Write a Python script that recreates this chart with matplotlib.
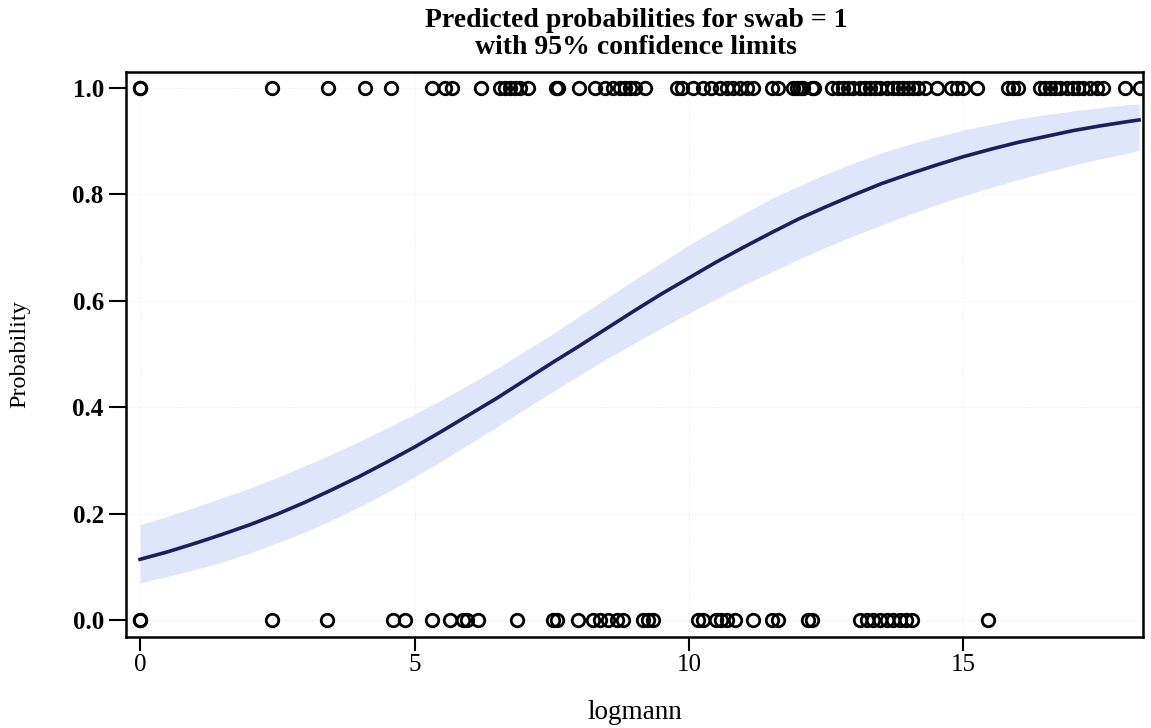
import matplotlib
matplotlib.use("Agg")
import matplotlib.pyplot as plt
import numpy as np

plt.rcParams['font.family'] = ['Liberation Serif', 'DejaVu Serif']

# observed logmann values, split by outcome
swab1_x = [0, 0, 2.40, 3.43, 4.10, 4.58, 5.31, 5.55, 5.68,
           6.22, 6.56, 6.65, 6.74, 6.83, 6.92, 7.07, 7.57, 7.61, 7.99, 8.29, 8.47,
           8.62, 8.74, 8.83, 8.93, 9.02, 9.20, 9.78, 9.87, 10.08, 10.26, 10.41,
           10.56, 10.69, 10.81, 10.93, 11.05, 11.17, 11.51, 11.63, 11.90, 11.96,
           12.02, 12.08, 12.24, 12.28, 12.60, 12.72, 12.81, 12.90, 12.99, 13.11,
           13.21, 13.30, 13.39, 13.48, 13.60, 13.72, 13.81, 13.90, 13.99, 14.09,
           14.18, 14.30, 14.51, 14.78, 14.88, 15.00, 15.24, 15.82, 15.91, 16.00,
           16.39, 16.48, 16.58, 16.67, 16.76, 16.88, 17.00, 17.09, 17.18, 17.30,
           17.43, 17.55, 17.94, 18.21]
swab0_x = [0, 0, 2.40, 3.40, 4.61, 4.83, 5.31, 5.65, 5.88,
           5.95, 6.16, 6.86, 7.53, 7.59, 7.98, 8.26, 8.38, 8.53, 8.68, 8.80,
           9.17, 9.26, 9.35, 10.17, 10.26, 10.50, 10.59, 10.69, 10.84, 11.17,
           11.51, 11.63, 12.17, 12.24, 13.11, 13.24, 13.36, 13.48, 13.60, 13.72,
           13.84, 13.96, 14.06, 15.45]

# predicted probability and 95% limits along logmann
grid_x = [0, 0.5, 1, 1.5, 2, 2.5, 3, 3.5, 4, 4.5, 5, 5.5, 6, 6.5, 7, 7.5, 8, 8.5,
          9, 9.5, 10, 10.5, 11, 11.5, 12, 12.5, 13, 13.5, 14, 14.5, 15, 15.5,
          16, 16.5, 17, 17.5, 18, 18.2]
pred = [0.114, 0.128, 0.144, 0.161, 0.179, 0.199, 0.221, 0.245, 0.270, 0.297,
        0.325, 0.355, 0.386, 0.417, 0.450, 0.483, 0.515, 0.548, 0.581, 0.613,
        0.643, 0.673, 0.701, 0.728, 0.754, 0.777, 0.799, 0.820, 0.838, 0.855,
        0.871, 0.885, 0.898, 0.909, 0.920, 0.929, 0.937, 0.940]
lower = [0.070, 0.082, 0.095, 0.109, 0.126, 0.145, 0.165, 0.188, 0.213, 0.240,
         0.269, 0.299, 0.331, 0.363, 0.396, 0.428, 0.460, 0.491, 0.520, 0.549,
         0.577, 0.604, 0.630, 0.654, 0.678, 0.701, 0.722, 0.742, 0.762, 0.780,
         0.797, 0.813, 0.828, 0.842, 0.855, 0.867, 0.878, 0.883]
upper = [0.179, 0.195, 0.212, 0.230, 0.248, 0.268, 0.290, 0.312, 0.336, 0.361,
         0.387, 0.414, 0.443, 0.473, 0.505, 0.537, 0.571, 0.605, 0.639, 0.672,
         0.705, 0.735, 0.764, 0.792, 0.816, 0.839, 0.859, 0.878, 0.894, 0.908,
         0.921, 0.932, 0.942, 0.950, 0.957, 0.963, 0.969, 0.970]

xticks = [0, 5, 10, 15]
yticks = [0.0, 0.2, 0.4, 0.6, 0.8, 1.0]

fig = plt.figure(figsize=(11.51, 7.28), dpi=100)
ax = fig.add_axes([0.1095, 0.125, 0.8835, 0.776])

ax.fill_between(grid_x, lower, upper, color='#dfe6f9', linewidth=0)
ax.plot(grid_x, pred, color='#1b1f5c', linewidth=2.6)

ax.plot(swab1_x, np.ones(len(swab1_x)), 'o', mfc='none', mec='black', ms=9, mew=2)
ax.plot(swab0_x, np.zeros(len(swab0_x)), 'o', mfc='none', mec='black', ms=9, mew=2)

ax.set_xlim(-0.255, 18.27)
ax.set_ylim(-0.032, 1.030)
ax.set_xticks(xticks)
ax.set_yticks(yticks)
ax.set_xticklabels([str(t) for t in xticks], fontsize=18)
ax.set_yticklabels(['%.1f' % t for t in yticks], fontsize=18, fontweight='bold')
ax.tick_params(axis='y', length=12, width=1.5, direction='out', pad=4)
ax.tick_params(axis='x', length=10, width=1.5, direction='out', pad=2)
ax.grid(True, color='#ececf3', linestyle=':', linewidth=0.8)
ax.set_axisbelow(True)
for s in ax.spines.values():
    s.set_linewidth(1.8)

ax.set_xlabel('logmann', fontsize=19.5, va='center')
ax.xaxis.set_label_coords(0.5, -0.133)
ax.set_ylabel('Probability', fontsize=17.5)
ax.yaxis.set_label_coords(-0.094, 0.5)
fig.text(0.5525, 0.972, 'Predicted probabilities for swab = 1', ha='center', va='center',
         fontsize=20, fontweight='bold')
fig.text(0.5525, 0.935, 'with 95% confidence limits', ha='center', va='center',
         fontsize=20, fontweight='bold')

fig.savefig('out.png', dpi=100)
